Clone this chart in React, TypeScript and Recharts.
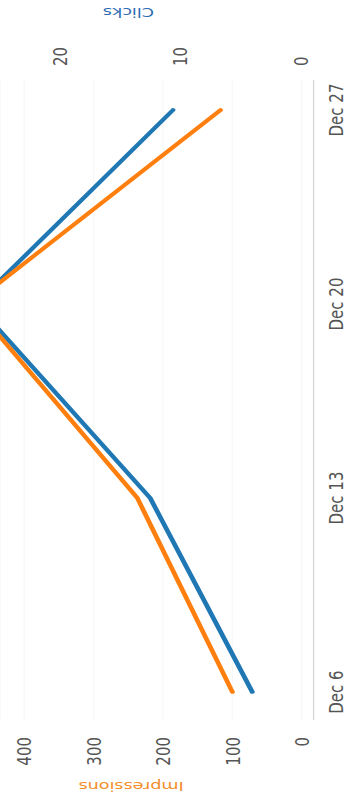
import { CartesianGrid, Line, LineChart, XAxis, YAxis } from "recharts";

// weekly totals
const weeks = ["Dec 6", "Dec 13", "Dec 20", "Dec 27"];
const impressions = [100, 237, 475, 117];
const clicks = [4, 12.5, 27, 10.6];

const impressionTicks = [0, 100, 200, 300, 400];
const clickTicks = [0, 10, 20];

const BLUE = "#1f77b4";
const ORANGE = "#ff7f0e";

// the reference is a landscape chart turned on its side and stretched a bit
const W = 802;
const H = 256;
const STRETCH = 346 / H;

export default function App() {
  const data = weeks.map((week, i) => ({
    week,
    impressions: impressions[i],
    clicks: clicks[i],
  }));

  const tick = { fontSize: 15, fill: "#555" };

  return (
    <div
      style={{
        position: "absolute",
        left: 0,
        top: 0,
        width: 346,
        height: 802,
        overflow: "hidden",
        background: "#fff",
      }}
    >
      <div
        style={{
          width: W,
          height: H,
          fontFamily: "'DejaVu Sans', sans-serif",
          transformOrigin: "0 0",
          transform: `translateY(${W}px) rotate(-90deg) scaleY(${STRETCH})`,
        }}
      >
        <LineChart width={W} height={H} data={data} margin={{ top: 0, right: 0, bottom: 0, left: 0 }}>
          <CartesianGrid vertical={false} stroke="#f8f8f8" yAxisId="imp" />
          <XAxis
            dataKey="week"
            height={24}
            padding={{ left: 28, right: 30 }}
            stroke="#d8d8d8"
            tickLine={false}
            tickSize={6}
            tickMargin={5}
            tick={tick}
            interval={0}
          />
          <YAxis
            yAxisId="imp"
            width={82}
            domain={[-17, 435]}
            ticks={impressionTicks}
            allowDataOverflow
            axisLine={false}
            tickLine={false}
            tickSize={6}
            tickMargin={11}
            tick={tick}
            label={{
              content: ({ viewBox }: any) => (
                <text
                  x={viewBox.x + 16}
                  y={viewBox.y + 97}
                  transform={`rotate(-90 ${viewBox.x + 16} ${viewBox.y + 97})`}
                  textAnchor="middle"
                  dominantBaseline="central"
                  fontSize={13}
                  fill="#f28e2b"
                >
                  Impressions
                </text>
              ),
            }}
          />
          <YAxis
            yAxisId="clk"
            orientation="right"
            width={80}
            domain={[-1.1, 25]}
            ticks={clickTicks}
            allowDataOverflow
            axisLine={false}
            tickLine={false}
            tickSize={6}
            tickMargin={8}
            tick={tick}
            label={{
              content: ({ viewBox }: any) => (
                <text
                  x={viewBox.x + 68}
                  y={viewBox.y + 95}
                  transform={`rotate(-90 ${viewBox.x + 68} ${viewBox.y + 95})`}
                  textAnchor="middle"
                  dominantBaseline="central"
                  fontSize={13}
                  fill="#2f6db3"
                >
                  Clicks
                </text>
              ),
            }}
          />
          <Line
            yAxisId="clk"
            type="linear"
            dataKey="clicks"
            stroke={BLUE}
            strokeWidth={3.6}
            strokeLinecap="round"
            strokeLinejoin="round"
            dot={false}
            isAnimationActive={false}
          />
          <Line
            yAxisId="imp"
            type="linear"
            dataKey="impressions"
            stroke={ORANGE}
            strokeWidth={3.6}
            strokeLinecap="round"
            strokeLinejoin="round"
            dot={false}
            isAnimationActive={false}
          />
        </LineChart>
      </div>
    </div>
  );
}
